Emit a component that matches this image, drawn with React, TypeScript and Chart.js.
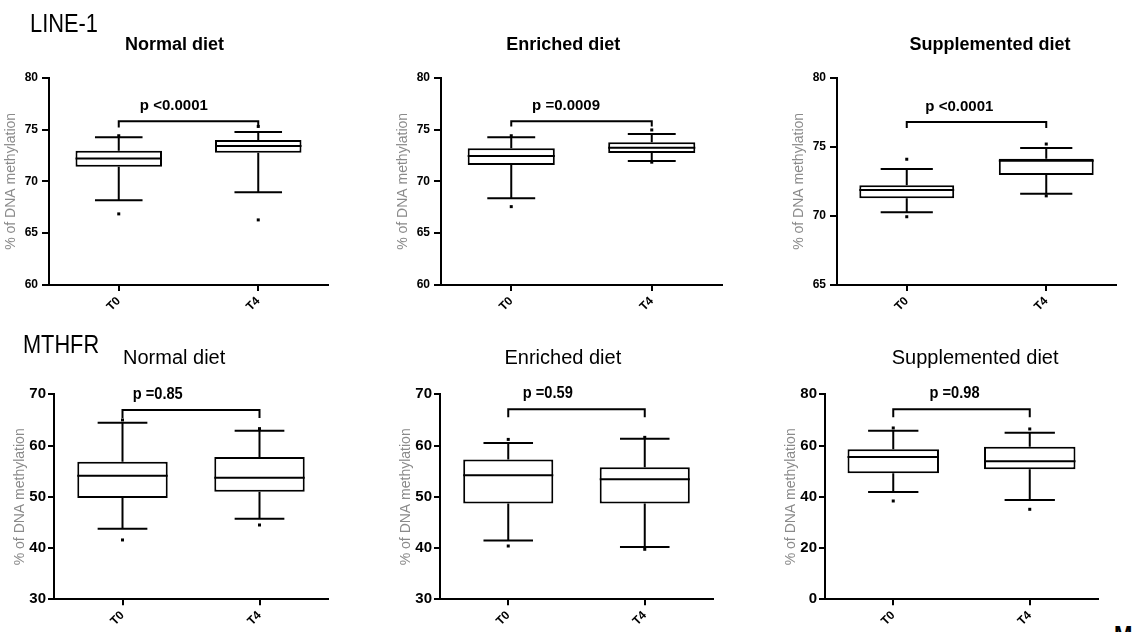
import React, { useEffect, useRef } from "react";
import { Chart, registerables } from "chart.js";

Chart.register(...registerables);

// ---------- data ----------
const categories = ["T0", "T4"];
const rowLabels = ["LINE-1", "MTHFR"];
const panelTitles = ["Normal diet", "Enriched diet", "Supplemented diet", "Normal diet", "Enriched diet", "Supplemented diet"];
const yAxisTitle = "% of DNA methylation";
const pLabels = ["p <0.0001", "p =0.0009", "p <0.0001", "p =0.85", "p =0.59", "p =0.98"];

// five-number summaries per group: [min, Q1, median, Q3, max]
const line1Normal = [[68.18, 71.42, 72.2, 72.96, 74.25], [68.95, 72.77, 73.4, 73.99, 74.76]];
const line1Enriched = [[68.37, 71.58, 72.45, 73.19, 74.25], [71.97, 72.74, 73.25, 73.77, 74.57]];
const line1Supplemented = [[70.26, 71.27, 71.87, 72.21, 73.39], [71.6, 72.96, 73.99, 74.14, 74.91]];
const mthfrNormal = [[43.79, 49.77, 54.13, 56.86, 64.47], [45.74, 51.0, 53.74, 57.77, 62.9]];
const mthfrEnriched = [[41.45, 48.67, 54.2, 57.3, 60.5], [40.21, 48.67, 53.41, 55.76, 61.35]];
const mthfrSupplemented = [[41.89, 49.17, 55.55, 58.54, 65.82], [38.76, 50.73, 53.85, 59.58, 65.04]];

// individual points (outliers / extremes) per group
const line1NormalPoints = [[66.86, 74.4], [66.28, 75.3]];
const line1EnrichedPoints = [[67.56, 74.4], [74.96, 71.85]];
const line1SupplementedPoints = [[74.1, 69.94], [75.2, 71.45]];
const mthfrNormalPoints = [[65.0, 41.58], [63.3, 44.5]];
const mthfrEnrichedPoints = [[61.2, 40.4], [61.6, 39.76]];
const mthfrSupplementedPoints = [[66.86, 38.37], [66.47, 35.12]];

const yMin = [60, 60, 65, 30, 30, 0];
const yMax = [80, 80, 80, 70, 70, 80];
const yStep = [5, 5, 5, 10, 10, 20];
const bracketTop = [75.8, 75.8, 76.8, 66.94, 67.07, 74.15];
const bracketFoot = [75.2, 75.3, 76.36, 65.4, 65.5, 71.0];

const panelStats = [line1Normal, line1Enriched, line1Supplemented, mthfrNormal, mthfrEnriched, mthfrSupplemented];
const panelPoints = [line1NormalPoints, line1EnrichedPoints, line1SupplementedPoints, mthfrNormalPoints, mthfrEnrichedPoints, mthfrSupplementedPoints];

// ---------- layout / style ----------
const SANS = "'Liberation Sans', Arial, Helvetica, sans-serif";
const Y_AXIS_W = 48;
const PAD_R = 12;

const panelLayout = [
  { left: 49, right: 328, row: 0, barPct: 0.62, titleAt: 0.4, pAt: 0.395 },
  { left: 441, right: 722, row: 0, barPct: 0.62, titleAt: 0.37, pAt: 0.39 },
  { left: 837, right: 1116, row: 0, barPct: 0.68, titleAt: 0.597, pAt: 0.377 },
  { left: 54, right: 328, row: 1, barPct: 0.66, titleAt: 0.377, pAt: 0.257 },
  { left: 440, right: 713, row: 1, barPct: 0.66, titleAt: 0.4, pAt: 0.29 },
  { left: 825, right: 1098, row: 1, barPct: 0.67, titleAt: 0.6, pAt: 0.449 },
];

const rowLayout = [
  {
    top: 0, height: 322, plotTop: 77.7, plotBottom: 285,
    titleFont: `bold 18px ${SANS}`, titleGap: 27.7,
    pFont: `bold 15px ${SANS}`, pGap: 11, pScaleX: 1,
    yTick: { size: 12, weight: "bold", family: SANS }, yTickLen: 7, yTickPad: 4, yTitlePad: 2,
  },
  {
    top: 322, height: 310, plotTop: 394.3, plotBottom: 599.3,
    titleFont: `20px ${SANS}`, titleGap: 30.3,
    pFont: `bold 17px ${SANS}`, pGap: 11, pScaleX: 0.86,
    yTick: { size: 15, weight: "bold", family: SANS }, yTickLen: 6, yTickPad: 2, yTitlePad: 6,
  },
];

Chart.defaults.font.family = SANS;
Chart.defaults.color = "#000";

function drawText(ctx: any, text: string, x: number, y: number, font: string, sx: number) {
  ctx.save();
  ctx.font = font;
  ctx.textAlign = "center";
  ctx.textBaseline = "alphabetic";
  ctx.translate(x, y);
  ctx.scale(sx, 1);
  ctx.fillText(text, 0, 0);
  ctx.restore();
}

function makePlugin(idx: number) {
  const pl = panelLayout[idx];
  const rl = rowLayout[pl.row];
  const stats = panelStats[idx];
  const pts = panelPoints[idx];
  return {
    id: "boxWhisker" + idx,
    afterDatasetsDraw(chart: any) {
      const { ctx } = chart;
      const xs = chart.scales.x;
      const ys = chart.scales.y;
      const meta = chart.getDatasetMeta(0);
      ctx.save();
      ctx.strokeStyle = "#000";
      ctx.fillStyle = "#000";
      ctx.lineWidth = 2;
      stats.forEach((s: number[], i: number) => {
        const cx = xs.getPixelForValue(i);
        const bw = meta.data[i].width;
        const cap = bw * 0.55;
        const [mn, q1, md, q3, mx] = s.map((v) => ys.getPixelForValue(v));
        ctx.beginPath();
        ctx.moveTo(cx, q3);
        ctx.lineTo(cx, mx);
        ctx.moveTo(cx - cap / 2, mx);
        ctx.lineTo(cx + cap / 2, mx);
        ctx.moveTo(cx, q1);
        ctx.lineTo(cx, mn);
        ctx.moveTo(cx - cap / 2, mn);
        ctx.lineTo(cx + cap / 2, mn);
        ctx.moveTo(cx - bw / 2, md);
        ctx.lineTo(cx + bw / 2, md);
        ctx.stroke();
        pts[i].forEach((v: number) => {
          const py = ys.getPixelForValue(v);
          ctx.fillRect(cx - 1.5, py - 1.5, 3, 3);
        });
      });
      const x0 = xs.getPixelForValue(0);
      const x1 = xs.getPixelForValue(1);
      const bt = ys.getPixelForValue(bracketTop[idx]);
      const bf = ys.getPixelForValue(bracketFoot[idx]);
      ctx.beginPath();
      ctx.moveTo(x0, bf);
      ctx.lineTo(x0, bt);
      ctx.lineTo(x1, bt);
      ctx.lineTo(x1, bf);
      ctx.stroke();
      ctx.restore();
      drawText(ctx, pLabels[idx], x0 + (x1 - x0) * pl.pAt, bt - rl.pGap, rl.pFont, rl.pScaleX);
    },
    afterDraw(chart: any) {
      const { ctx, chartArea } = chart;
      const xs = chart.scales.x;
      const x0 = xs.getPixelForValue(0);
      const x1 = xs.getPixelForValue(1);
      ctx.fillStyle = "#000";
      drawText(ctx, panelTitles[idx], x0 + (x1 - x0) * pl.titleAt, chartArea.top - rl.titleGap, rl.titleFont, 1);
    },
  };
}

function Panel({ idx }: { idx: number }) {
  const ref = useRef<HTMLCanvasElement>(null);
  const pl = panelLayout[idx];
  const rl = rowLayout[pl.row];
  const width = pl.right - pl.left + Y_AXIS_W + PAD_R;

  useEffect(() => {
    if (!ref.current) return;
    const xHeight = rl.height - (rl.plotBottom - rl.top);
    const chart = new Chart(ref.current, {
      type: "bar",
      data: {
        labels: categories,
        datasets: [
          {
            data: panelStats[idx].map((s) => [s[1], s[3]]) as any,
            backgroundColor: "#ffffff",
            borderColor: "#000000",
            borderWidth: 2,
            borderSkipped: false,
            barPercentage: pl.barPct,
            categoryPercentage: 1,
          },
        ],
      },
      options: {
        responsive: false,
        animation: false,
        events: [],
        layout: { padding: { top: rl.plotTop - rl.top, left: 0, right: PAD_R, bottom: 0 } },
        plugins: {
          legend: { display: false },
          tooltip: { enabled: false },
          title: { display: false },
        },
        scales: {
          x: {
            type: "category",
            offset: true,
            grid: { offset: false, drawOnChartArea: false, color: "#000", lineWidth: 2, tickLength: 6 },
            border: { display: true, color: "#000", width: 2 },
            ticks: {
              minRotation: 45,
              maxRotation: 45,
              autoSkip: false,
              padding: 3,
              color: "#000",
              font: { size: 12, weight: "bold" },
            },
            afterFit: (s: any) => {
              s.height = xHeight;
            },
          },
          y: {
            min: yMin[idx],
            max: yMax[idx],
            grid: { drawOnChartArea: false, color: "#000", lineWidth: 2, tickLength: rl.yTickLen },
            border: { display: true, color: "#000", width: 2 },
            ticks: {
              stepSize: yStep[idx],
              padding: rl.yTickPad,
              color: "#000",
              font: rl.yTick as any,
            },
            title: {
              display: true,
              text: yAxisTitle,
              color: "#8a8a8a",
              font: { size: 14, family: SANS },
              padding: { top: rl.yTitlePad, bottom: 0 },
            },
            afterFit: (s: any) => {
              s.width = Y_AXIS_W;
            },
          },
        },
      } as any,
      plugins: [makePlugin(idx)],
    });
    return () => chart.destroy();
  }, [idx]);

  return (
    <canvas
      ref={ref}
      width={width}
      height={rl.height}
      style={{ position: "absolute", left: pl.left - Y_AXIS_W, top: rl.top, width, height: rl.height }}
    />
  );
}

const labelStyle = (left: number, top: number, size: number, sx: number, bold = false): React.CSSProperties => ({
  position: "absolute",
  left,
  top,
  font: `${bold ? "bold " : ""}${size}px ${SANS}`,
  lineHeight: `${size}px`,
  color: "#000",
  whiteSpace: "nowrap",
  transform: `scaleX(${sx})`,
  transformOrigin: "0 0",
});

export default function App() {
  return (
    <div
      style={{
        position: "absolute",
        left: 0,
        top: 0,
        width: 1138,
        height: 632,
        overflow: "hidden",
        background: "#fff",
      }}
    >
      {panelLayout.map((_, i) => (
        <Panel key={i} idx={i} />
      ))}
      <div style={labelStyle(30, 10, 26, 0.84)}>{rowLabels[0]}</div>
      <div style={labelStyle(23, 332, 25, 0.87)}>{rowLabels[1]}</div>
      <div style={labelStyle(1114, 622, 26, 0.85, true)}>M</div>
    </div>
  );
}
